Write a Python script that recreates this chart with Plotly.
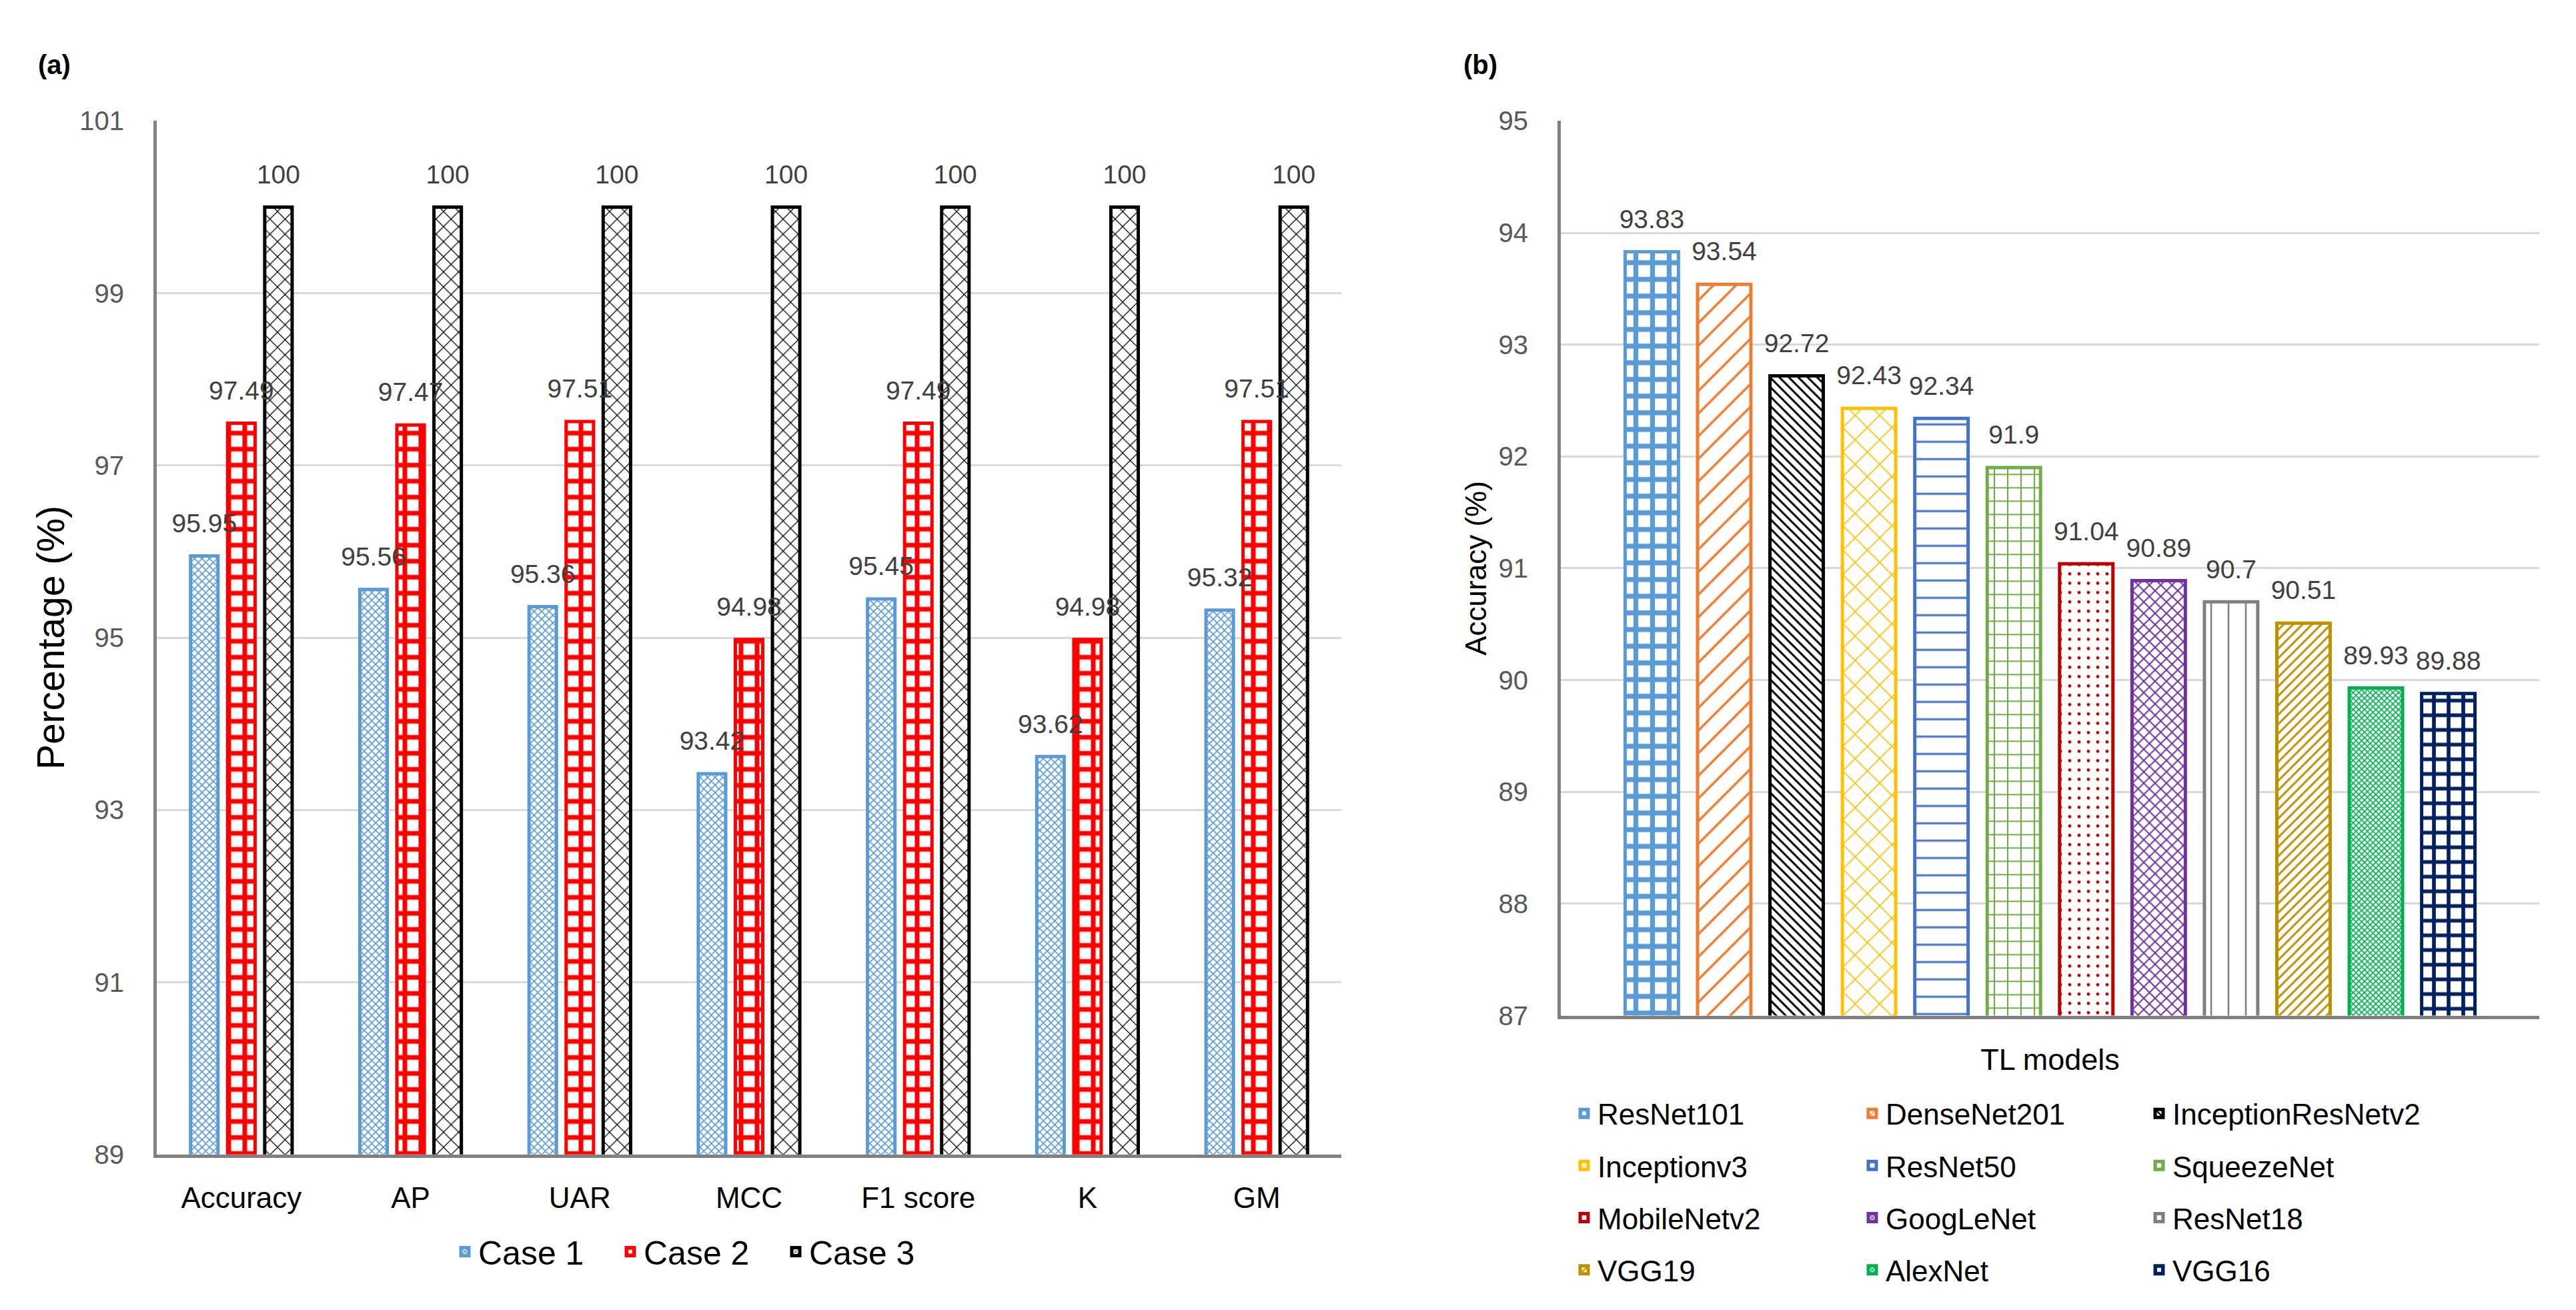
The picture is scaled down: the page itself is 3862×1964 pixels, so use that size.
import plotly.graph_objects as go

# ---------------- data ----------------
metrics = ["Accuracy", "AP", "UAR", "MCC", "F1 score", "K", "GM"]
case_names = ["Case 1", "Case 2", "Case 3"]
case1 = [95.95, 95.56, 95.36, 93.42, 95.45, 93.62, 95.32]
case2 = [97.49, 97.47, 97.51, 94.98, 97.49, 94.98, 97.51]
case3 = [100, 100, 100, 100, 100, 100, 100]

models = ["ResNet101", "DenseNet201", "InceptionResNetv2", "Inceptionv3",
          "ResNet50", "SqueezeNet", "MobileNetv2", "GoogLeNet", "ResNet18",
          "VGG19", "AlexNet", "VGG16"]
model_acc = [93.83, 93.54, 92.72, 92.43, 92.34, 91.9, 91.04, 90.89, 90.7,
             90.51, 89.93, 89.88]
b_category = ["TL models"]

a_ticks = [89, 91, 93, 95, 97, 99, 101]
b_ticks = [87, 88, 89, 90, 91, 92, 93, 94, 95]

# ---------------- styles ----------------
FONT = "Liberation Sans, Arial, sans-serif"
W, H = 3862, 1964

case_styles = [
    dict(color="#5B9BD5", shape="x", size=8, solidity=0.4),
    dict(color="#FF0000", shape="+", size=24, solidity=0.5),
    dict(color="#000000", shape="x", size=16, solidity=0.15),
]
model_styles = [
    dict(color="#5B9BD5", shape="+", size=25, solidity=0.5),
    dict(color="#ED7D31", shape="/", size=24, solidity=0.15),
    dict(color="#000000", shape="\\", size=10, solidity=0.3),
    dict(color="#FFC000", shape="x", size=26, solidity=0.12),
    dict(color="#4472C4", shape="-", size=26, solidity=0.12),
    dict(color="#70AD47", shape="+", size=20, solidity=0.2),
    dict(color="#C00000", shape=".", size=14, solidity=0.1),
    dict(color="#7030A0", shape="x", size=12, solidity=0.3),
    dict(color="#7F7F7F", shape="|", size=26, solidity=0.1),
    dict(color="#BF9000", shape="/", size=10, solidity=0.3),
    dict(color="#00B050", shape="x", size=6, solidity=0.5),
    dict(color="#002060", shape="+", size=22, solidity=0.45),
]

def bar_marker(st):
    return dict(
        color="white",
        line=dict(color=st["color"], width=5),
        pattern=dict(shape=st["shape"], fgcolor=st["color"], bgcolor="white",
                     size=st["size"], solidity=st["solidity"], fillmode="replace"),
    )

fig = go.Figure()

# ---------------- panel (a) ----------------
a_step = 0.219
a_width = 0.162
for k, (name, vals) in enumerate(zip(case_names, [case1, case2, case3])):
    xs = [i + (k - 1) * a_step for i in range(len(metrics))]
    fig.add_trace(go.Bar(
        x=xs, y=vals, width=a_width, name=name,
        marker=bar_marker(case_styles[k]),
        xaxis="x", yaxis="y", legend="legend",
    ))
    fig.add_trace(go.Scatter(
        x=xs, y=vals, mode="markers+text", texttemplate="%{y}",
        textposition="top center",
        textfont=dict(family=FONT, size=39, color="#404040"),
        marker=dict(size=40, color="rgba(0,0,0,0)"),
        showlegend=False, hoverinfo="skip", cliponaxis=False,
        xaxis="x", yaxis="y",
    ))

# ---------------- panel (b) ----------------
b_step = 0.074
b_width = 0.0545
n = len(models)
for i, (name, val) in enumerate(zip(models, model_acc)):
    xb = (i - (n - 1) / 2) * b_step
    fig.add_trace(go.Bar(
        x=[xb], y=[val], width=b_width, name=name,
        marker=bar_marker(model_styles[i]),
        xaxis="x2", yaxis="y2",
        legend=["legend2", "legend3", "legend4"][i % 3],
        legendgroup=name,
    ))
fig.add_trace(go.Scatter(
    x=[(i - (n - 1) / 2) * b_step for i in range(n)], y=model_acc,
    mode="markers+text", texttemplate="%{y}", textposition="top center",
    textfont=dict(family=FONT, size=39, color="#404040"),
    marker=dict(size=40, color="rgba(0,0,0,0)"),
    showlegend=False, hoverinfo="skip", cliponaxis=False,
    xaxis="x2", yaxis="y2",
))

grid = "#D9D9D9"
axline = "#808080"
tickc = "#595959"

leg_common = dict(font=dict(family=FONT, size=44, color="black"),
                  bgcolor="rgba(0,0,0,0)", borderwidth=0,
                  tracegroupgap=18, orientation="v",
                  xanchor="left", yanchor="top", y=1 - 1649 / H)

fig.update_layout(
    width=W, height=H,
    margin=dict(l=0, r=0, t=0, b=0),
    paper_bgcolor="white", plot_bgcolor="white",
    barmode="overlay",
    font=dict(family=FONT, color="black"),
    xaxis=dict(domain=[235 / W, 2011 / W], anchor="y",
               range=[-0.5, len(metrics) - 0.5],
               tickvals=list(range(len(metrics))), ticktext=metrics,
               showgrid=False, zeroline=False, showline=True,
               linecolor=axline, linewidth=5, ticks="",
               ticklabelstandoff=22,
               tickfont=dict(family=FONT, size=44, color="black")),
    yaxis=dict(domain=[1 - 1748 / H, 1 - 163 / H], anchor="x", range=[89, 101],
               tickvals=a_ticks, showgrid=True, gridcolor=grid, gridwidth=3,
               zeroline=False, showline=True, linecolor=axline, linewidth=5,
               ticks="", ticklabelstandoff=36,
               tickfont=dict(family=FONT, size=40, color=tickc),
               title=dict(text="Percentage (%)", standoff=6,
                          font=dict(family=FONT, size=57, color="black"))),
    xaxis2=dict(domain=[2340 / W, 3807 / W], anchor="y2", range=[-0.5, 0.5],
                tickvals=[0], ticktext=b_category,
                showgrid=False, zeroline=False, showline=True,
                linecolor=axline, linewidth=5, ticks="",
                ticklabelstandoff=22,
                tickfont=dict(family=FONT, size=45, color="black")),
    yaxis2=dict(domain=[1 - 1535 / H, 1 - 163 / H], anchor="x2", range=[87, 95],
                tickvals=b_ticks, showgrid=True, gridcolor=grid, gridwidth=3,
                zeroline=False, showline=True, linecolor=axline, linewidth=5,
                ticks="", ticklabelstandoff=36,
                tickfont=dict(family=FONT, size=40, color=tickc),
                title=dict(text="Accuracy (%)", standoff=6,
                           font=dict(family=FONT, size=44, color="black"))),
    legend=dict(orientation="h", x=677 / W, xanchor="left",
                y=1 - 1897 / H, yanchor="middle", entrywidth=203,
                font=dict(family=FONT, size=50, color="black"),
                bgcolor="rgba(0,0,0,0)"),
    legend2=dict(x=2355 / W, **leg_common),
    legend3=dict(x=2787 / W, **leg_common),
    legend4=dict(x=3217 / W, **leg_common),
    annotations=[
        dict(text="<b>(a)</b>", x=81 / W, y=1 - 77 / H, xref="paper", yref="paper",
             xanchor="center", yanchor="middle", showarrow=False,
             font=dict(family=FONT, size=40, color="black")),
        dict(text="<b>(b)</b>", x=2219 / W, y=1 - 77 / H, xref="paper", yref="paper",
             xanchor="center", yanchor="middle", showarrow=False,
             font=dict(family=FONT, size=40, color="black")),
    ],
)

fig.write_html("out.html", config={"displayModeBar": False},
               post_script="document.body.style.margin='0';document.body.style.overflow='hidden';")
